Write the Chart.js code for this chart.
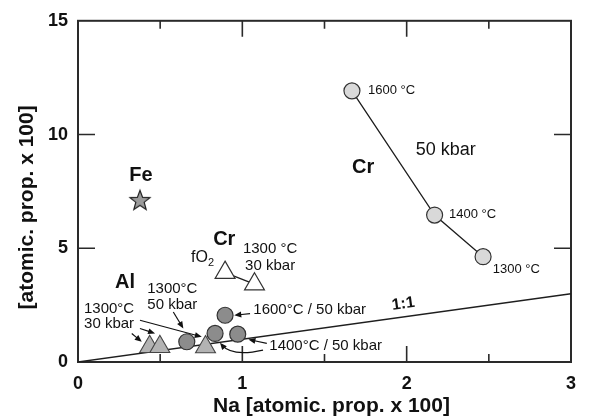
<!DOCTYPE html>
<html>
<head>
<meta charset="utf-8">
<script src="https://cdn.jsdelivr.net/npm/chart.js@4.4.1/dist/chart.umd.min.js"></script>
<style>
  html, body { margin: 0; padding: 0; background: #fff; }
  #wrap { width: 589px; height: 420px; }
</style>
</head>
<body>
<div id="wrap"><canvas id="naChart" width="589" height="420"></canvas></div>
<script>
// Cr at 50 kbar (1600, 1400, 1300 °C)
const crNa = [1.667, 2.170, 2.465];
const crVal = [11.92, 6.46, 4.63];
// Cr, fO2 runs (1300 °C / 30 kbar)
const crFoNa = [0.895, 1.074];
const crFoVal = [3.93, 3.42];
// Al triangles
const alNa = [0.436, 0.498, 0.776];
const alVal = [0.67, 0.67, 0.66];
// grey circles
const greyNa = [0.662, 0.834, 0.895, 0.972];
const greyVal = [0.89, 1.255, 2.055, 1.224];
// Fe
const feNa = [0.377];
const feVal = [7.13];
// 1:1 line
const lineNa = [0, 3];
const lineVal = [0, 3];

const xLabels = [0, 1, 2, 3];
const yLabels = [0, 5, 10, 15];

// annotations: text, x, y (data units), style
const notes = [
    ['Fe', 0.383, 8.18, 'el'],
    ['Cr', 1.735, 8.53, 'el'],
    ['50 kbar', 2.238, 9.30, 'big'],
    ['1600 °C', 1.765, 11.92, 'small'],
    ['1400 °C', 2.258, 6.47, 'small'],
    ['1300 °C', 2.524, 4.05, 'small'],
    ['Cr', 0.890, 5.38, 'el'],
    ['1300 °C', 1.169, 4.98, 'mid'],
    ['30 kbar', 1.169, 4.24, 'mid'],
    ['Al', 0.286, 3.51, 'el'],
    ['1300°C', 0.574, 3.22, 'mid'],
    ['50 kbar', 0.574, 2.52, 'mid'],
    ['1300°C', 0.189, 2.35, 'mid'],
    ['30 kbar', 0.189, 1.66, 'mid'],
    ['1600°C / 50 kbar', 1.067, 2.30, 'midLeft'],
    ['1400°C / 50 kbar', 1.164, 0.71, 'midLeft']
];
const fo2Note = [0.688, 4.60];
const ratioNote = ['1:1', 1.98, 2.55];

// arrows: from x, y -> tip x, y
const arrows = [
    [0.327, 1.255, 0.388, 0.888],
    [0.377, 1.474, 0.469, 1.255],
    [0.377, 1.836, 0.753, 1.106],
    [0.580, 2.199, 0.641, 1.474],
    [1.047, 2.129, 0.951, 2.055],
    [1.149, 0.818, 1.037, 0.993]
];
const curvedArrow = [1.126, 0.525, 0.937, 0.219, 0.864, 0.844];

const FONT = '"Liberation Sans", Arial, Helvetica, sans-serif';
const INK = '#111111';

function pts(xs, ys) {
    return xs.map((x, i) => ({ x: x, y: ys[i] }));
}

// five pointed star for the Fe point
function makeStar() {
    const c = document.createElement('canvas');
    c.width = 26; c.height = 26;
    const g = c.getContext('2d');
    g.beginPath();
    for (let i = 0; i < 10; i++) {
        const r = i % 2 === 0 ? 10.5 : 4.4;
        const a = -Math.PI / 2 + i * Math.PI / 5;
        const px = 13 + r * Math.cos(a), py = 14 + r * Math.sin(a);
        if (i === 0) g.moveTo(px, py); else g.lineTo(px, py);
    }
    g.closePath();
    g.fillStyle = '#9b9b9b';
    g.fill();
    g.lineWidth = 1.2;
    g.strokeStyle = '#222';
    g.stroke();
    return c;
}

function drawArrowHead(ctx, fx, fy, tx, ty) {
    const ang = Math.atan2(ty - fy, tx - fx);
    const len = 7, half = 3;
    ctx.beginPath();
    ctx.moveTo(tx, ty);
    ctx.lineTo(tx - len * Math.cos(ang) + half * Math.sin(ang), ty - len * Math.sin(ang) - half * Math.cos(ang));
    ctx.lineTo(tx - len * Math.cos(ang) - half * Math.sin(ang), ty - len * Math.sin(ang) + half * Math.cos(ang));
    ctx.closePath();
    ctx.fill();
}

const frame = {
    id: 'frame',
    beforeDatasetsDraw(chart) {
        const { ctx, chartArea: a, scales: { x, y } } = chart;
        ctx.save();
        ctx.strokeStyle = '#2a2a2a';
        ctx.lineWidth = 1.6;
        x.ticks.forEach(t => {
            if (t.value <= 0 || t.value >= 3) return;
            const px = x.getPixelForValue(t.value);
            const len = Number.isInteger(t.value) ? 16 : 8;
            ctx.beginPath();
            ctx.moveTo(px, a.bottom); ctx.lineTo(px, a.bottom - len);
            ctx.moveTo(px, a.top); ctx.lineTo(px, a.top + len);
            ctx.stroke();
        });
        y.ticks.forEach(t => {
            if (t.value <= 0 || t.value >= 15) return;
            const py = y.getPixelForValue(t.value);
            ctx.beginPath();
            ctx.moveTo(a.left, py); ctx.lineTo(a.left + 17, py);
            ctx.moveTo(a.right, py); ctx.lineTo(a.right - 17, py);
            ctx.stroke();
        });
        ctx.lineWidth = 2;
        ctx.strokeRect(a.left, a.top, a.right - a.left, a.bottom - a.top);
        ctx.restore();
    },
    afterDatasetsDraw(chart) {
        const { ctx, chartArea: a, scales: { x, y } } = chart;
        ctx.save();
        ctx.fillStyle = INK;
        ctx.textBaseline = 'middle';
        const styles = {
            el: ['bold 20px ' + FONT, 'center'],
            big: ['18px ' + FONT, 'center'],
            small: ['13px ' + FONT, 'left'],
            mid: ['15px ' + FONT, 'center'],
            midLeft: ['15px ' + FONT, 'left']
        };
        notes.forEach(n => {
            const s = styles[n[3]];
            ctx.font = s[0];
            ctx.textAlign = s[1];
            ctx.fillText(n[0], x.getPixelForValue(n[1]), y.getPixelForValue(n[2]));
        });

        // fO2 with subscript
        ctx.textAlign = 'left';
        ctx.font = '16px ' + FONT;
        const fx = x.getPixelForValue(fo2Note[0]), fy = y.getPixelForValue(fo2Note[1]);
        ctx.fillText('fO', fx, fy);
        const w = ctx.measureText('fO').width;
        ctx.font = '11px ' + FONT;
        ctx.fillText('2', fx + w, fy + 6);

        // 1:1 label along the line
        const ang = Math.atan2(y.getPixelForValue(3) - y.getPixelForValue(0), x.getPixelForValue(3) - x.getPixelForValue(0));
        ctx.save();
        ctx.translate(x.getPixelForValue(ratioNote[1]), y.getPixelForValue(ratioNote[2]));
        ctx.rotate(ang);
        ctx.font = 'bold 16px ' + FONT;
        ctx.textAlign = 'center';
        ctx.fillText(ratioNote[0], 0, 0);
        ctx.restore();

        // arrows
        ctx.strokeStyle = INK;
        ctx.lineWidth = 1.2;
        arrows.forEach(ar => {
            const x1 = x.getPixelForValue(ar[0]), y1 = y.getPixelForValue(ar[1]);
            const x2 = x.getPixelForValue(ar[2]), y2 = y.getPixelForValue(ar[3]);
            const d = Math.hypot(x2 - x1, y2 - y1);
            const ex = x2 - (x2 - x1) / d * 5, ey = y2 - (y2 - y1) / d * 5;
            ctx.beginPath();
            ctx.moveTo(x1, y1); ctx.lineTo(ex, ey);
            ctx.stroke();
            drawArrowHead(ctx, x1, y1, x2, y2);
        });
        const c = curvedArrow;
        const sx = x.getPixelForValue(c[0]), sy = y.getPixelForValue(c[1]);
        const cx = x.getPixelForValue(c[2]), cy = y.getPixelForValue(c[3]);
        const tx = x.getPixelForValue(c[4]), ty = y.getPixelForValue(c[5]);
        ctx.beginPath();
        ctx.moveTo(sx, sy);
        ctx.quadraticCurveTo(cx, cy, tx + (cx - tx) * 0.15, ty + (cy - ty) * 0.15);
        ctx.stroke();
        drawArrowHead(ctx, cx, cy, tx, ty);
        ctx.restore();
    },
    afterDraw(chart) {
        const { ctx, chartArea: a } = chart;
        ctx.save();
        ctx.fillStyle = INK;
        ctx.font = 'bold 21px ' + FONT;
        ctx.textAlign = 'center';
        ctx.textBaseline = 'alphabetic';
        ctx.fillText('Na [atomic. prop. x 100]', (a.left + a.right) / 2 + 7, chart.height - 8);
        ctx.translate(33, (a.top + a.bottom) / 2 + 16);
        ctx.rotate(-Math.PI / 2);
        ctx.fillText('[atomic. prop. x 100]', 0, 0);
        ctx.restore();
    }
};

const ctx = document.getElementById('naChart').getContext('2d');
const star = makeStar();

new Chart(ctx, {
    type: 'scatter',
    data: {
        datasets: [
            {
                label: 'Cr 50 kbar',
                data: pts(crNa, crVal),
                showLine: true,
                borderColor: '#1e1e1e',
                borderWidth: 1.3,
                pointRadius: 8,
                pointBackgroundColor: '#d9d9d9',
                pointBorderColor: '#333',
                pointBorderWidth: 1.2
            },
            {
                label: 'Cr fO2',
                data: pts(crFoNa, crFoVal),
                showLine: true,
                borderColor: '#1e1e1e',
                borderWidth: 1.3,
                pointStyle: 'triangle',
                pointRadius: 11.5,
                pointBackgroundColor: '#ffffff',
                pointBorderColor: '#333',
                pointBorderWidth: 1.2
            },
            {
                label: 'Al',
                data: pts(alNa, alVal),
                pointStyle: 'triangle',
                pointRadius: 11.5,
                pointBackgroundColor: '#b3b3b3',
                pointBorderColor: '#444',
                pointBorderWidth: 1.1
            },
            {
                label: 'grey',
                data: pts(greyNa, greyVal),
                pointRadius: 8,
                pointBackgroundColor: '#8c8c8c',
                pointBorderColor: '#333',
                pointBorderWidth: 1.2
            },
            {
                label: 'Fe',
                data: pts(feNa, feVal),
                pointStyle: star,
                pointRadius: 11
            },
            {
                label: '1:1',
                data: pts(lineNa, lineVal),
                showLine: true,
                borderColor: '#1e1e1e',
                borderWidth: 1.4,
                pointRadius: 0,
                order: 10
            }
        ]
    },
    options: {
        responsive: false,
        animation: false,
        layout: { padding: { top: 19, right: 18, left: 0, bottom: 0 } },
        plugins: {
            legend: { display: false },
            tooltip: { enabled: false }
        },
        scales: {
            x: {
                type: 'linear',
                min: 0,
                max: 3,
                grid: { display: false, drawTicks: false },
                border: { display: false },
                ticks: {
                    stepSize: 0.5,
                    autoSkip: false,
                    maxRotation: 0,
                    padding: 11,
                    color: INK,
                    font: { family: FONT, size: 18, weight: 'bold' },
                    callback: v => xLabels.includes(v) ? v : ''
                },
                afterFit: s => { s.height = 58; }
            },
            y: {
                min: 0,
                max: 15,
                grid: { display: false, drawTicks: false },
                border: { display: false },
                ticks: {
                    stepSize: 5,
                    padding: 10,
                    color: INK,
                    font: { family: FONT, size: 18, weight: 'bold' },
                    callback: v => yLabels.includes(v) ? v : ''
                },
                afterFit: s => { s.width = 78; }
            }
        }
    },
    plugins: [frame]
});
</script>
</body>
</html>
